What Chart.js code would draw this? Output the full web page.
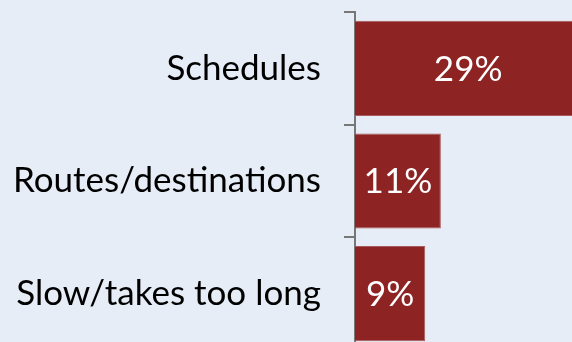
<!DOCTYPE html>
<html>
<head>
<meta charset="utf-8">
<script src="https://cdn.jsdelivr.net/npm/chart.js@4/dist/chart.umd.min.js"></script>
<style>
  html, body { margin: 0; padding: 0; overflow: hidden; background: #e6edf6; }
  #wrap { position: relative; width: 572px; height: 350px; }
</style>
</head>
<body>
<div id="wrap"><canvas id="issuesChart"></canvas></div>
<script>
var categories = ['Schedules', 'Routes/destinations', 'Slow/takes too long'];
var shares = [29, 11, 9];

// white percentage text in the middle of each bar
var barLabels = {
    id: 'barLabels',
    afterDatasetsDraw: function (chart) {
        var ctx = chart.ctx;
        var meta = chart.getDatasetMeta(0);
        ctx.save();
        ctx.fillStyle = '#ffffff';
        ctx.font = '35px Lato';
        ctx.textAlign = 'center';
        ctx.textBaseline = 'middle';
        meta.data.forEach(function (bar, i) {
            ctx.fillText(shares[i] + '%', (bar.x + bar.base) / 2, bar.y + 1);
        });
        ctx.restore();
    }
};

var ctx = document.getElementById('issuesChart').getContext('2d');
new Chart(ctx, {
    type: 'bar',
    data: {
        labels: categories,
        datasets: [{
            data: shares,
            backgroundColor: '#8e2323',
            borderColor: '#a85a5a',
            borderWidth: 1,
            categoryPercentage: 1,
            barPercentage: 0.845
        }]
    },
    plugins: [barLabels],
    options: {
        indexAxis: 'y',
        responsive: true,
        maintainAspectRatio: false,
        animation: false,
        layout: { padding: { top: 12, right: 0, bottom: 0, left: 0 } },
        plugins: {
            legend: { display: false },
            tooltip: { enabled: false }
        },
        scales: {
            x: { display: false, min: 0, max: 27.8 },
            y: {
                afterFit: function (scale) {
                    scale.width = 355;
                    scale.paddingTop = 0;
                    scale.paddingBottom = 0;
                },
                border: { color: '#777777', width: 2 },
                grid: { drawOnChartArea: false, offset: true, tickLength: 11, color: '#777777', lineWidth: 2 },
                ticks: { color: '#000000', padding: 23, font: { family: 'Lato', size: 35 } }
            }
        }
    }
});
</script>
</body>
</html>
